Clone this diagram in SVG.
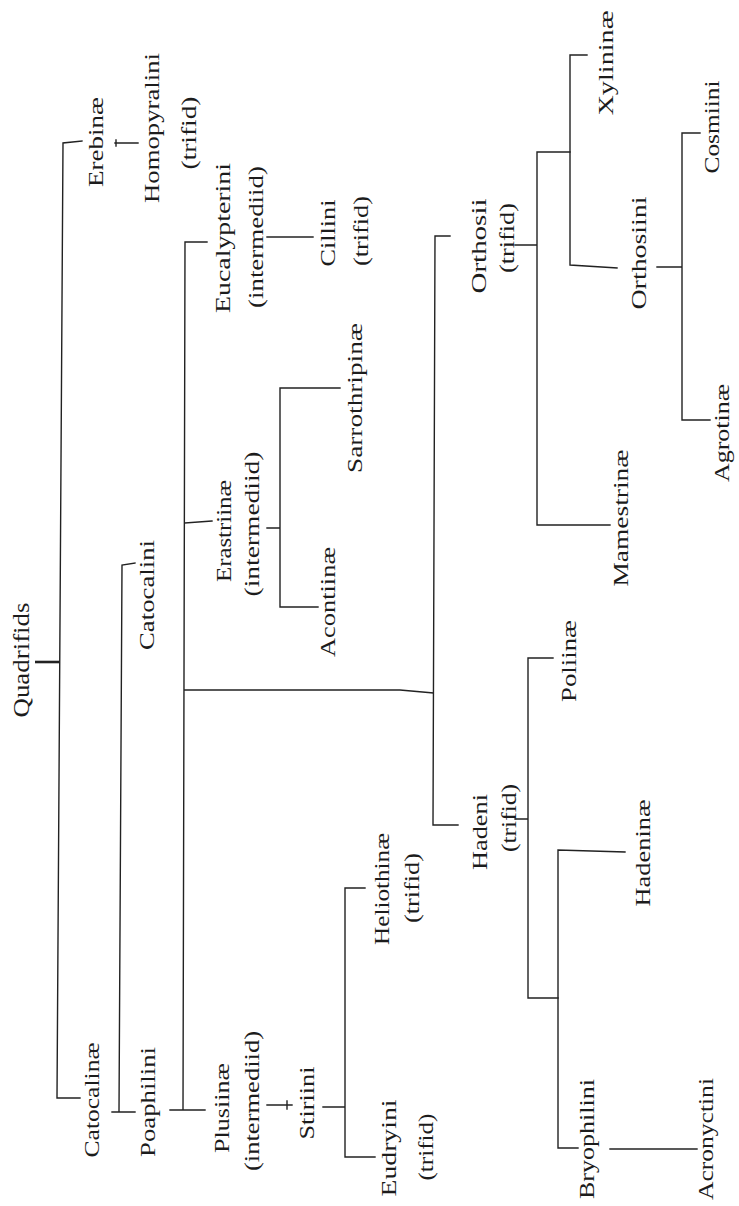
<svg xmlns="http://www.w3.org/2000/svg" width="739" height="1206" viewBox="0 0 739 1206">
<style>
.t{font-family:"Liberation Serif","DejaVu Serif",serif;font-size:21px;fill:#1c1c1c;text-anchor:middle}
.big{font-size:23px}
.c{fill:none;stroke:#222;stroke-width:1.4;stroke-linecap:square}
.k{fill:none;stroke:#222;stroke-width:2.6}
</style>
<rect width="739" height="1206" fill="#fff"/>
<g id="connectors">
<path class="c" d="M82,141 L63,143 L57,1098 L80,1098"/>
<path class="k" d="M35,662 L60,662"/>
<path class="c" d="M115,143 L138,143 M116,140 L116,146"/>
<path class="c" d="M135,563 L122,565 L119,1112 M112,1112 L135,1112"/>
<path class="c" d="M207,242 L185,242 L183,1110 M170,1110 L205,1110 M185,523 L212,521 M185,690 L400,690 L433,693"/>
<path class="c" d="M267,237 L313,237"/>
<path class="c" d="M267,528 L280,528 M340,388 L280,388 L280,607 L318,607"/>
<path class="c" d="M450,236 L435,236 L433,825 L458,825"/>
<path class="c" d="M515,245 L537,245 M570,152 L537,152 L537,525 L610,525"/>
<path class="c" d="M587,55 L570,55 L570,265 L617,268"/>
<path class="c" d="M657,267 L682,267 M700,133 L682,133 L682,420 L710,420"/>
<path class="c" d="M515,819 L528,819 M553,658 L528,658 L528,998 L558,998"/>
<path class="c" d="M625,852 L558,850 L558,1148 L578,1148"/>
<path class="c" d="M610,1149 L697,1149"/>
<path class="c" d="M267,1105 L292,1105 M287,1101 L287,1109"/>
<path class="c" d="M323,1107 L345,1107 M365,888 L345,888 L345,1157 L375,1157"/>
</g>
<g id="n-quadrifids"><text class="t big" transform="translate(29,660) rotate(-90)" textLength="115" lengthAdjust="spacingAndGlyphs">Quadrifids</text></g>
<g id="n-erebinae"><text class="t" transform="translate(103,142) rotate(-90)" textLength="90" lengthAdjust="spacingAndGlyphs">Erebinæ</text></g>
<g id="n-homopyralini">
<text class="t" transform="translate(159,128) rotate(-90)" textLength="150" lengthAdjust="spacingAndGlyphs">Homopyralini</text>
<text class="t" transform="translate(196,133) rotate(-90)" textLength="73" lengthAdjust="spacingAndGlyphs">(trifid)</text>
</g>
<g id="n-catocalinae"><text class="t" transform="translate(99,1100) rotate(-90)" textLength="115" lengthAdjust="spacingAndGlyphs">Catocalinæ</text></g>
<g id="n-catocalini"><text class="t" transform="translate(154,595) rotate(-90)" textLength="110" lengthAdjust="spacingAndGlyphs">Catocalini</text></g>
<g id="n-poaphilini"><text class="t" transform="translate(155,1102) rotate(-90)" textLength="110" lengthAdjust="spacingAndGlyphs">Poaphilini</text></g>
<g id="n-eucalypterini">
<text class="t" transform="translate(230,238) rotate(-90)" textLength="150" lengthAdjust="spacingAndGlyphs">Eucalypterini</text>
<text class="t" transform="translate(263,237) rotate(-90)" textLength="142" lengthAdjust="spacingAndGlyphs">(intermediid)</text>
</g>
<g id="n-cillini">
<text class="t" transform="translate(335,233) rotate(-90)" textLength="67" lengthAdjust="spacingAndGlyphs">Cillini</text>
<text class="t" transform="translate(368,231) rotate(-90)" textLength="70" lengthAdjust="spacingAndGlyphs">(trifid)</text>
</g>
<g id="n-erastriinae">
<text class="t" transform="translate(231,531) rotate(-90)" textLength="102" lengthAdjust="spacingAndGlyphs">Erastriinæ</text>
<text class="t" transform="translate(259,524) rotate(-90)" textLength="145" lengthAdjust="spacingAndGlyphs">(intermediid)</text>
</g>
<g id="n-acontiinae"><text class="t" transform="translate(335,602) rotate(-90)" textLength="110" lengthAdjust="spacingAndGlyphs">Acontiinæ</text></g>
<g id="n-sarrothripinae"><text class="t" transform="translate(362,398) rotate(-90)" textLength="150" lengthAdjust="spacingAndGlyphs">Sarrothripinæ</text></g>
<g id="n-orthosii">
<text class="t" transform="translate(486,246) rotate(-90)" textLength="95" lengthAdjust="spacingAndGlyphs">Orthosii</text>
<text class="t" transform="translate(514,238) rotate(-90)" textLength="70" lengthAdjust="spacingAndGlyphs">(trifid)</text>
</g>
<g id="n-xylininae"><text class="t" transform="translate(613,63) rotate(-90)" textLength="105" lengthAdjust="spacingAndGlyphs">Xylininæ</text></g>
<g id="n-orthosiini"><text class="t" transform="translate(646,253) rotate(-90)" textLength="113" lengthAdjust="spacingAndGlyphs">Orthosiini</text></g>
<g id="n-cosmiini"><text class="t" transform="translate(719,127) rotate(-90)" textLength="93" lengthAdjust="spacingAndGlyphs">Cosmiini</text></g>
<g id="n-agrotinae"><text class="t" transform="translate(729,433) rotate(-90)" textLength="98" lengthAdjust="spacingAndGlyphs">Agrotinæ</text></g>
<g id="n-mamestrinae"><text class="t" transform="translate(628,518) rotate(-90)" textLength="137" lengthAdjust="spacingAndGlyphs">Mamestrinæ</text></g>
<g id="n-poliinae"><text class="t" transform="translate(576,661) rotate(-90)" textLength="82" lengthAdjust="spacingAndGlyphs">Poliinæ</text></g>
<g id="n-hadeni">
<text class="t" transform="translate(487,832) rotate(-90)" textLength="76" lengthAdjust="spacingAndGlyphs">Hadeni</text>
<text class="t" transform="translate(516,818) rotate(-90)" textLength="68" lengthAdjust="spacingAndGlyphs">(trifid)</text>
</g>
<g id="n-hadeninae"><text class="t" transform="translate(650,853) rotate(-90)" textLength="107" lengthAdjust="spacingAndGlyphs">Hadeninæ</text></g>
<g id="n-bryophilini"><text class="t" transform="translate(594,1139) rotate(-90)" textLength="120" lengthAdjust="spacingAndGlyphs">Bryophilini</text></g>
<g id="n-acronyctini"><text class="t" transform="translate(713,1139) rotate(-90)" textLength="122" lengthAdjust="spacingAndGlyphs">Acronyctini</text></g>
<g id="n-plusiinae">
<text class="t" transform="translate(229,1108) rotate(-90)" textLength="90" lengthAdjust="spacingAndGlyphs">Plusiinæ</text>
<text class="t" transform="translate(259,1101) rotate(-90)" textLength="140" lengthAdjust="spacingAndGlyphs">(intermediid)</text>
</g>
<g id="n-stiriini"><text class="t" transform="translate(314,1103) rotate(-90)" textLength="73" lengthAdjust="spacingAndGlyphs">Stiriini</text></g>
<g id="n-heliothinae">
<text class="t" transform="translate(389,889) rotate(-90)" textLength="112" lengthAdjust="spacingAndGlyphs">Heliothinæ</text>
<text class="t" transform="translate(419,888) rotate(-90)" textLength="70" lengthAdjust="spacingAndGlyphs">(trifid)</text>
</g>
<g id="n-eudryini">
<text class="t" transform="translate(396,1148) rotate(-90)" textLength="97" lengthAdjust="spacingAndGlyphs">Eudryini</text>
<text class="t" transform="translate(433,1147) rotate(-90)" textLength="67" lengthAdjust="spacingAndGlyphs">(trifid)</text>
</g>
</svg>
